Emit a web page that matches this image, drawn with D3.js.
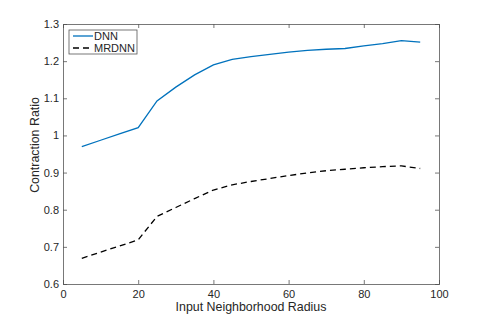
<!DOCTYPE html>
<html>
<head>
<meta charset="utf-8">
<script src="https://cdn.jsdelivr.net/npm/d3@7"></script>
<style>
  body { margin: 0; background: #fff; }
  text { font-family: "Liberation Sans", Arial, sans-serif; fill: #262626; }
</style>
</head>
<body>
<div id="chart"></div>
<script>
// radius values (x) and contraction ratios for both models
const radius = [5, 10, 15, 20, 25, 30, 35, 40, 45, 50, 55, 60, 65, 70, 75, 80, 85, 90, 95];
const dnn = [0.970, 0.987, 1.004, 1.021, 1.093, 1.130, 1.163, 1.190, 1.205, 1.212, 1.218, 1.224, 1.229, 1.232, 1.234, 1.241, 1.247, 1.255, 1.251];
const mrdnn = [0.669, 0.686, 0.702, 0.719, 0.782, 0.806, 0.830, 0.853, 0.867, 0.876, 0.884, 0.892, 0.899, 0.905, 0.909, 0.913, 0.916, 0.918, 0.911];
const xTicks = [0, 20, 40, 60, 80, 100];
const yTicks = [0.6, 0.7, 0.8, 0.9, 1, 1.1, 1.2, 1.3];

const W = 485, H = 321;
const margin = { top: 24, right: 46, bottom: 37, left: 63 };
const width = W - margin.left - margin.right;
const height = H - margin.top - margin.bottom;

const svg = d3.select("#chart").append("svg")
  .attr("width", W)
  .attr("height", H);

const g = svg.append("g")
  .attr("transform", "translate(" + margin.left + "," + margin.top + ")");

const x = d3.scaleLinear().domain([0, 100]).range([0, width]);
const y = d3.scaleLinear().domain([0.6, 1.3]).range([height, 0]);

const axisColor = "#555";

// axes, ticks pointing inward (matlab style)
const xAxis = g.append("g")
  .attr("transform", "translate(0," + height + ")")
  .call(d3.axisBottom(x).tickValues(xTicks).tickSize(-4).tickPadding(6).tickFormat(d3.format("d")));
const xTop = g.append("g")
  .call(d3.axisTop(x).tickValues(xTicks).tickSize(-4).tickFormat(""));
const yAxis = g.append("g")
  .call(d3.axisLeft(y).tickValues(yTicks).tickSize(-4).tickPadding(4).tickFormat(d => d3.format("")(d)));
const yRight = g.append("g")
  .attr("transform", "translate(" + width + ",0)")
  .call(d3.axisRight(y).tickValues(yTicks).tickSize(-4).tickFormat(""));

[xAxis, xTop, yAxis, yRight].forEach(a => {
  a.select(".domain").attr("stroke", axisColor).attr("stroke-width", 0.8);
  a.selectAll(".tick line").attr("stroke", axisColor).attr("stroke-width", 0.8);
  a.selectAll(".tick text")
    .style("font-family", "'Liberation Sans', Arial, sans-serif")
    .style("font-size", "11px")
    .attr("fill", "#262626");
});

// lines
const line = d3.line()
  .x((d, i) => x(radius[i]))
  .y(d => y(d));

g.append("path")
  .datum(dnn)
  .attr("d", line)
  .attr("fill", "none")
  .attr("stroke", "#0072BD")
  .attr("stroke-width", 1.3);

g.append("path")
  .datum(mrdnn)
  .attr("d", line)
  .attr("fill", "none")
  .attr("stroke", "#000")
  .attr("stroke-width", 1.3)
  .attr("stroke-dasharray", "6,4");

// axis labels
g.append("text")
  .attr("x", width / 2)
  .attr("y", height + 27)
  .attr("text-anchor", "middle")
  .style("font-size", "12.4px")
  .text("Input Neighborhood Radius");

g.append("text")
  .attr("transform", "rotate(-90)")
  .attr("x", -121)
  .attr("y", -24)
  .attr("text-anchor", "middle")
  .style("font-size", "12.4px")
  .text("Contraction Ratio");

// legend
const legend = g.append("g").attr("transform", "translate(6,6)");
legend.append("rect")
  .attr("width", 68)
  .attr("height", 24)
  .attr("fill", "#fff")
  .attr("stroke", axisColor)
  .attr("stroke-width", 0.8);

const entries = [
  { name: "DNN", color: "#0072BD", dash: null },
  { name: "MRDNN", color: "#000", dash: "6,4" }
];
entries.forEach((e, i) => {
  const row = legend.append("g").attr("transform", "translate(0," + (6 + i * 12) + ")");
  row.append("line")
    .attr("x1", 4).attr("x2", 24)
    .attr("y1", 0).attr("y2", 0)
    .attr("stroke", e.color)
    .attr("stroke-width", 1.3)
    .attr("stroke-dasharray", e.dash);
  row.append("text")
    .attr("x", 25)
    .attr("y", 4)
    .style("font-size", "11px")
    .text(e.name);
});
</script>
</body>
</html>
